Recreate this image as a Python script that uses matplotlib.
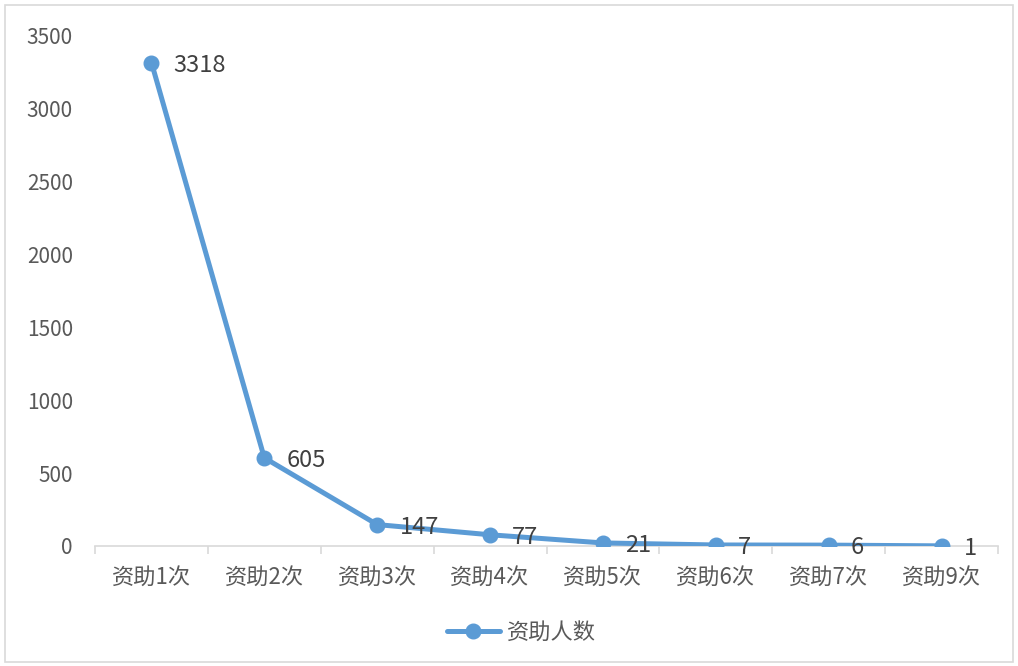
import matplotlib
matplotlib.use("Agg")
import matplotlib.pyplot as plt
from matplotlib.patches import Rectangle
import numpy as np

plt.rcParams['font.family'] = ['Noto Sans CJK SC', 'DejaVu Sans']

categories = ['资助1次', '资助2次', '资助3次', '资助4次', '资助5次', '资助6次', '资助7次', '资助9次']
values = [3318, 605, 147, 77, 21, 7, 6, 1]
series_name = '资助人数'
yticks = [0, 500, 1000, 1500, 2000, 2500, 3000, 3500]

color = '#5B9BD5'
txt = '#595959'

fig = plt.figure(figsize=(10.18, 6.66), dpi=100)
fig.patches.append(Rectangle((5/1018, 4/666), 1008/1018, 657/666, transform=fig.transFigure,
                             fill=False, edgecolor='#D9D9D9', linewidth=1.2))
ax = fig.add_axes([95/1018, 1-546/666, 903/1018, 510/666])

x = np.arange(len(categories))
line, = ax.plot(x, values, color=color, linewidth=3.6, marker='o', markersize=10.5,
                solid_capstyle='round', label=series_name, zorder=3)

for xi, v in zip(x, values):
    ax.annotate(str(v), (xi, v), xytext=(16, -2), textcoords='offset points',
                ha='left', va='center', fontsize=17, color='#404040', zorder=4)

ax.set_xlim(-0.5, len(categories) - 0.5)
ax.set_ylim(0, 3500)
ax.set_yticks(yticks)
ax.set_yticklabels([str(t) for t in yticks], fontsize=15, color=txt)
ax.set_xticks(x)
ax.set_xticklabels(categories, fontsize=16, color=txt)
ax.set_xticks(np.arange(-0.5, len(categories)), minor=True)
ax.tick_params(axis='x', which='major', length=0, pad=14)
ax.tick_params(axis='x', which='minor', length=6, color='#D9D9D9', width=1.2)
ax.tick_params(axis='y', length=0, pad=16)

for s in ['top', 'right', 'left']:
    ax.spines[s].set_visible(False)
ax.spines['bottom'].set_color('#D9D9D9')
ax.spines['bottom'].set_linewidth(1.2)

leg = fig.legend(handles=[line], loc='center', bbox_to_anchor=(521/1018, 1-632/666),
                 frameon=False, fontsize=16, handlelength=2.4, handletextpad=0.3)
for t in leg.get_texts():
    t.set_color(txt)

fig.savefig('out.png', dpi=100)
